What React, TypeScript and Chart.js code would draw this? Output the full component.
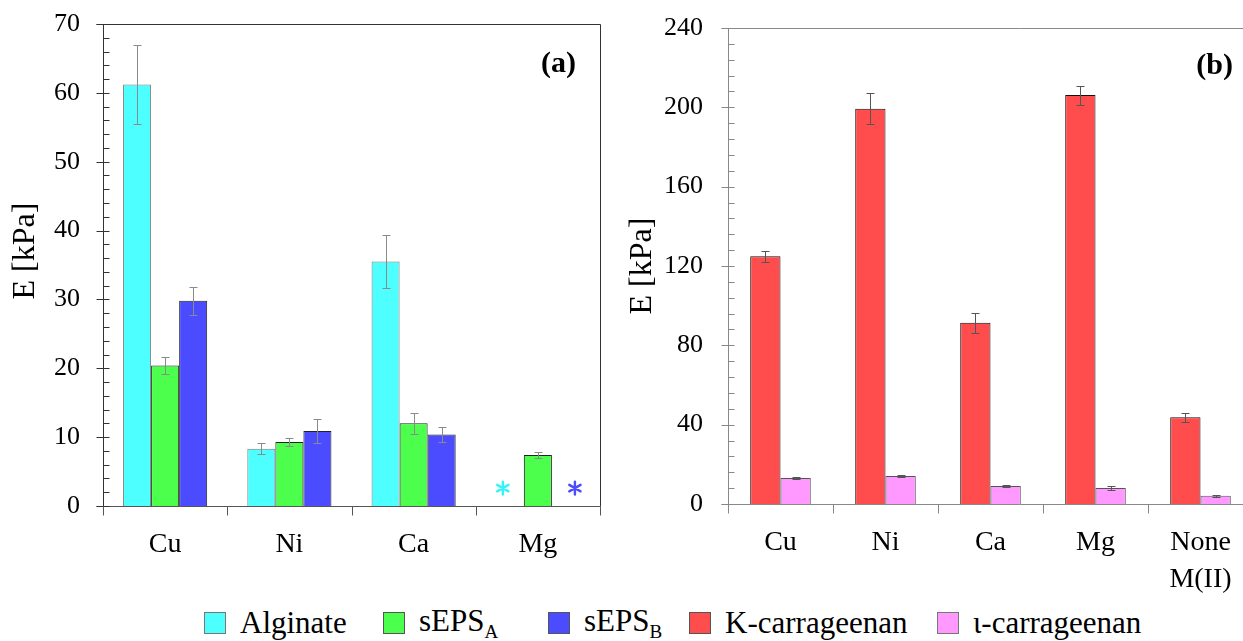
import React, { useEffect, useRef } from "react";
import { Chart, registerables } from "chart.js";

Chart.register(...registerables);

// ---------- data (a) ----------
const metalsA = ["Cu", "Ni", "Ca", "Mg"];
const alginateVals = [61.2, 8.3, 35.5, null];
const alginateErr = [5.7, 0.8, 3.9, 0];
const sepsAVals = [20.4, 9.3, 12.0, 7.4];
const sepsAErr = [1.25, 0.55, 1.5, 0.45];
const sepsBVals = [29.8, 10.9, 10.4, null];
const sepsBErr = [2.05, 1.75, 1.05, 0];
const asteriskLevelA = 2.6; // "*" marker value for series with no gel formed
const yTicksA = [0, 10, 20, 30, 40, 50, 60, 70];
const yMinorStepA = 2;

// ---------- data (b) ----------
const metalsB = ["Cu", "Ni", "Ca", "Mg", ["None", "M(II)"]];
const kappaVals = [124.9, 199.3, 91.4, 206.2, 43.8];
const kappaErr = [2.9, 7.9, 5.0, 4.8, 2.3];
const iotaVals = [13.1, 14.1, 9.1, 8.1, 4.2];
const iotaErr = [0.3, 0.3, 0.3, 0.8, 0.5];
const yTicksB = [0, 40, 80, 120, 160, 200, 240];
const yMinorStepB = 8;

// ---------- styles ----------
const FONT = "'Liberation Serif', 'Times New Roman', serif";
const C_ALG = "#4DFFFF";
const C_SA = "#4CFF4C";
const C_SB = "#4B4BFF";
const C_K = "#FF4D4D";
const C_I = "#FF99FF";

type DecorCfg = {
  axisColor: string;
  bottomColor: string;
  errColor: string;
  minorStep: number;
  majorStep: number;
  boxRight: boolean;
  topToEdge: boolean;
  tag: string;
  tagRightInset: number;
  tagBaseline: number;
  titleX: number;
  titleY: number;
  asterisks?: { dataset: number; index: number; value: number; color: string; shift: number }[];
};

function makeDecor(cfg: DecorCfg) {
  return {
    id: "decor",
    afterDatasetsDraw(chart: any) {
      const ctx = chart.ctx;
      const y = chart.scales.y;
      ctx.save();
      chart.data.datasets.forEach((ds: any, i: number) => {
        const meta = chart.getDatasetMeta(i);
        meta.data.forEach((el: any, j: number) => {
          const v = ds.data[j];
          const e = ds.errors ? ds.errors[j] : 0;
          if (v == null || !e) return;
          const xp = Math.round(el.x) + 0.5;
          const y1 = Math.round(y.getPixelForValue(v + e)) + 0.5;
          const y2 = Math.round(y.getPixelForValue(v - e)) + 0.5;
          ctx.strokeStyle = cfg.errColor;
          ctx.lineWidth = 1;
          ctx.beginPath();
          ctx.moveTo(xp, y1);
          ctx.lineTo(xp, y2);
          ctx.moveTo(xp - 4, y1);
          ctx.lineTo(xp + 4, y1);
          ctx.moveTo(xp - 4, y2);
          ctx.lineTo(xp + 4, y2);
          ctx.stroke();
        });
      });
      (cfg.asterisks || []).forEach((a) => {
        const el = chart.getDatasetMeta(a.dataset).data[a.index];
        const cx = el.x + a.shift;
        const cy = y.getPixelForValue(a.value);
        ctx.strokeStyle = a.color;
        ctx.lineWidth = 2.4;
        ctx.lineCap = "round";
        const r = 6.5;
        ctx.beginPath();
        for (let k = 0; k < 3; k++) {
          const ang = Math.PI / 2 + (k * Math.PI) / 3;
          ctx.moveTo(cx + r * Math.cos(ang), cy + r * Math.sin(ang));
          ctx.lineTo(cx - r * Math.cos(ang), cy - r * Math.sin(ang));
        }
        ctx.stroke();
      });
      ctx.restore();
    },
    afterDraw(chart: any) {
      const ctx = chart.ctx;
      const { left, right, top, bottom } = chart.chartArea;
      const y = chart.scales.y;
      const x = chart.scales.x;
      const W = chart.width;
      const L = Math.round(left) + 0.5;
      const R = Math.round(right) + 0.5;
      const T = Math.round(top) + 0.5;
      const B = Math.round(bottom) + 0.5;
      ctx.save();
      ctx.lineWidth = 1;
      ctx.strokeStyle = cfg.axisColor;
      ctx.beginPath();
      ctx.moveTo(L, T);
      ctx.lineTo(L, B);
      ctx.moveTo(L - 7, T);
      ctx.lineTo(cfg.topToEdge ? W : R, T);
      if (cfg.boxRight) {
        ctx.moveTo(R, T);
        ctx.lineTo(R, B);
      }
      ctx.stroke();
      ctx.strokeStyle = cfg.bottomColor;
      ctx.beginPath();
      ctx.moveTo(L - 7, B);
      ctx.lineTo(cfg.topToEdge ? W : R, B);
      ctx.stroke();
      ctx.strokeStyle = cfg.axisColor;
      ctx.beginPath();
      for (let v = y.min; v <= y.max + 1e-9; v += cfg.minorStep) {
        const py = Math.round(y.getPixelForValue(v)) + 0.5;
        const major = Math.abs(v / cfg.majorStep - Math.round(v / cfg.majorStep)) < 1e-6;
        ctx.moveTo(major ? L - 7 : L, py);
        ctx.lineTo(L + 6, py);
      }
      ctx.stroke();
      ctx.strokeStyle = cfg.bottomColor;
      ctx.beginPath();
      const n = x.ticks.length;
      const step = n > 1 ? x.getPixelForTick(1) - x.getPixelForTick(0) : right - left;
      for (let i = 0; i <= n; i++) {
        const px = Math.round(x.getPixelForTick(0) - step / 2 + i * step) + 0.5;
        ctx.moveTo(px, B);
        ctx.lineTo(px, B + 9);
      }
      ctx.stroke();
      ctx.fillStyle = "#000";
      ctx.font = `bold 30px ${FONT}`;
      ctx.textAlign = "right";
      ctx.textBaseline = "alphabetic";
      ctx.fillText(cfg.tag, right - cfg.tagRightInset, cfg.tagBaseline);
      ctx.translate(cfg.titleX, cfg.titleY);
      ctx.rotate(-Math.PI / 2);
      ctx.font = `32px ${FONT}`;
      ctx.textAlign = "center";
      ctx.textBaseline = "middle";
      ctx.fillText("E [kPa]", 0, 0);
      ctx.restore();
    },
  };
}

function baseOptions(opts: {
  yMin: number;
  yMax: number;
  yStep: number;
  yWidth: number;
  yPad: number;
  xHeight: number;
  padding: any;
  cat: number;
}) {
  return {
    animation: false,
    responsive: false,
    maintainAspectRatio: false,
    layout: { padding: opts.padding },
    datasets: { bar: { categoryPercentage: opts.cat, barPercentage: 1 } },
    plugins: { legend: { display: false }, tooltip: { enabled: false } },
    scales: {
      x: {
        grid: { display: false, drawTicks: false },
        border: { display: false },
        ticks: {
          color: "#000",
          font: { family: FONT, size: 28, lineHeight: 1.32 },
          padding: 20,
          maxRotation: 0,
          autoSkip: false,
        },
        afterFit: (s: any) => {
          s.height = opts.xHeight;
          s.paddingLeft = 0;
          s.paddingRight = 0;
          s.paddingTop = 0;
          s.paddingBottom = 0;
        },
      },
      y: {
        min: opts.yMin,
        max: opts.yMax,
        grid: { display: false, drawTicks: false },
        border: { display: false },
        ticks: {
          stepSize: opts.yStep,
          color: "#000",
          font: { family: FONT, size: 26 },
          padding: opts.yPad,
        },
        afterFit: (s: any) => {
          s.width = opts.yWidth;
          s.paddingLeft = 0;
          s.paddingRight = 0;
          s.paddingTop = 0;
          s.paddingBottom = 0;
        },
      },
    },
  };
}

function ChartA() {
  const ref = useRef<HTMLCanvasElement>(null);
  useEffect(() => {
    const chart = new Chart(ref.current as HTMLCanvasElement, {
      type: "bar",
      data: {
        labels: metalsA,
        datasets: [
          { label: "Alginate", data: alginateVals, errors: alginateErr, backgroundColor: C_ALG, borderColor: "#7a7a7a", borderWidth: 1 } as any,
          { label: "sEPS_A", data: sepsAVals, errors: sepsAErr, backgroundColor: C_SA, borderColor: "#222", borderWidth: 1 } as any,
          { label: "sEPS_B", data: sepsBVals, errors: sepsBErr, backgroundColor: C_SB, borderColor: "#222", borderWidth: 1 } as any,
        ],
      },
      options: baseOptions({
        yMin: yTicksA[0],
        yMax: yTicksA[yTicksA.length - 1],
        yStep: yTicksA[1] - yTicksA[0],
        yWidth: 103,
        yPad: 23,
        xHeight: 94,
        padding: { top: 24, right: 20, left: 0, bottom: 0 },
        cat: 0.677,
      }) as any,
      plugins: [
        makeDecor({
          axisColor: "#333",
          bottomColor: "#555",
          errColor: "#8a8a8a",
          minorStep: yMinorStepA,
          majorStep: yTicksA[1] - yTicksA[0],
          boxRight: true,
          topToEdge: false,
          tag: "(a)",
          tagRightInset: 24,
          tagBaseline: 72,
          titleX: 26,
          titleY: 251,
          asterisks: [
            { dataset: 0, index: 3, value: asteriskLevelA, color: "#33F5F5", shift: -7 },
            { dataset: 2, index: 3, value: asteriskLevelA, color: C_SB, shift: 9 },
          ],
        }) as any,
      ],
    });
    return () => chart.destroy();
  }, []);
  return <canvas ref={ref} width={620} height={600} style={{ display: "block" }} />;
}

function ChartB() {
  const ref = useRef<HTMLCanvasElement>(null);
  useEffect(() => {
    const chart = new Chart(ref.current as HTMLCanvasElement, {
      type: "bar",
      data: {
        labels: metalsB as any,
        datasets: [
          { label: "K-carrageenan", data: kappaVals, errors: kappaErr, backgroundColor: C_K, borderColor: "#111", borderWidth: 1 } as any,
          { label: "ι-carrageenan", data: iotaVals, errors: iotaErr, backgroundColor: C_I, borderColor: "#555", borderWidth: 1 } as any,
        ],
      },
      options: baseOptions({
        yMin: yTicksB[0],
        yMax: yTicksB[yTicksB.length - 1],
        yStep: yTicksB[1] - yTicksB[0],
        yWidth: 108,
        yPad: 25,
        xHeight: 96,
        padding: { top: 28, right: 67, left: 0, bottom: 0 },
        cat: 0.577,
      }) as any,
      plugins: [
        makeDecor({
          axisColor: "#888",
          bottomColor: "#888",
          errColor: "#555",
          minorStep: yMinorStepB,
          majorStep: yTicksB[1] - yTicksB[0],
          boxRight: false,
          topToEdge: true,
          tag: "(b)",
          tagRightInset: 20,
          tagBaseline: 74,
          titleX: 23,
          titleY: 266,
        }) as any,
      ],
    });
    return () => chart.destroy();
  }, []);
  return <canvas ref={ref} width={700} height={600} style={{ display: "block" }} />;
}

const legendItems: { name: string; sub?: string; color: string; border: string; left: number }[] = [
  { name: "Alginate", color: C_ALG, border: "#777", left: 204 },
  { name: "sEPS", sub: "A", color: C_SA, border: "#555", left: 383 },
  { name: "sEPS", sub: "B", color: C_SB, border: "#555", left: 548 },
  { name: "K-carrageenan", color: C_K, border: "#555", left: 689 },
  { name: "ι-carrageenan", color: C_I, border: "#777", left: 937 },
];

export default function App() {
  return (
    <div
      style={{
        position: "fixed",
        left: 0,
        top: 0,
        width: 1243,
        height: 641,
        overflow: "hidden",
        background: "#fff",
        fontFamily: FONT,
      }}
    >
      <div style={{ position: "absolute", left: 0, top: 0, width: 620, height: 600 }}>
        <ChartA />
      </div>
      <div style={{ position: "absolute", left: 620, top: 0, width: 623, height: 600, overflow: "hidden" }}>
        <ChartB />
      </div>
      {legendItems.map((it, i) => (
        <div
          key={i}
          style={{
            position: "absolute",
            left: it.left,
            top: 609,
            height: 28,
            display: "flex",
            alignItems: "center",
            whiteSpace: "nowrap",
          }}
        >
          <div
            style={{
              width: 20,
              height: 20,
              background: it.color,
              border: `1.5px solid ${it.border}`,
              marginRight: 14,
            }}
          />
          <span style={{ fontSize: 31, lineHeight: "28px", color: "#000" }}>
            {it.name}
            {it.sub ? <span style={{ fontSize: 19, position: "relative", top: 7 }}>{it.sub}</span> : null}
          </span>
        </div>
      ))}
    </div>
  );
}
